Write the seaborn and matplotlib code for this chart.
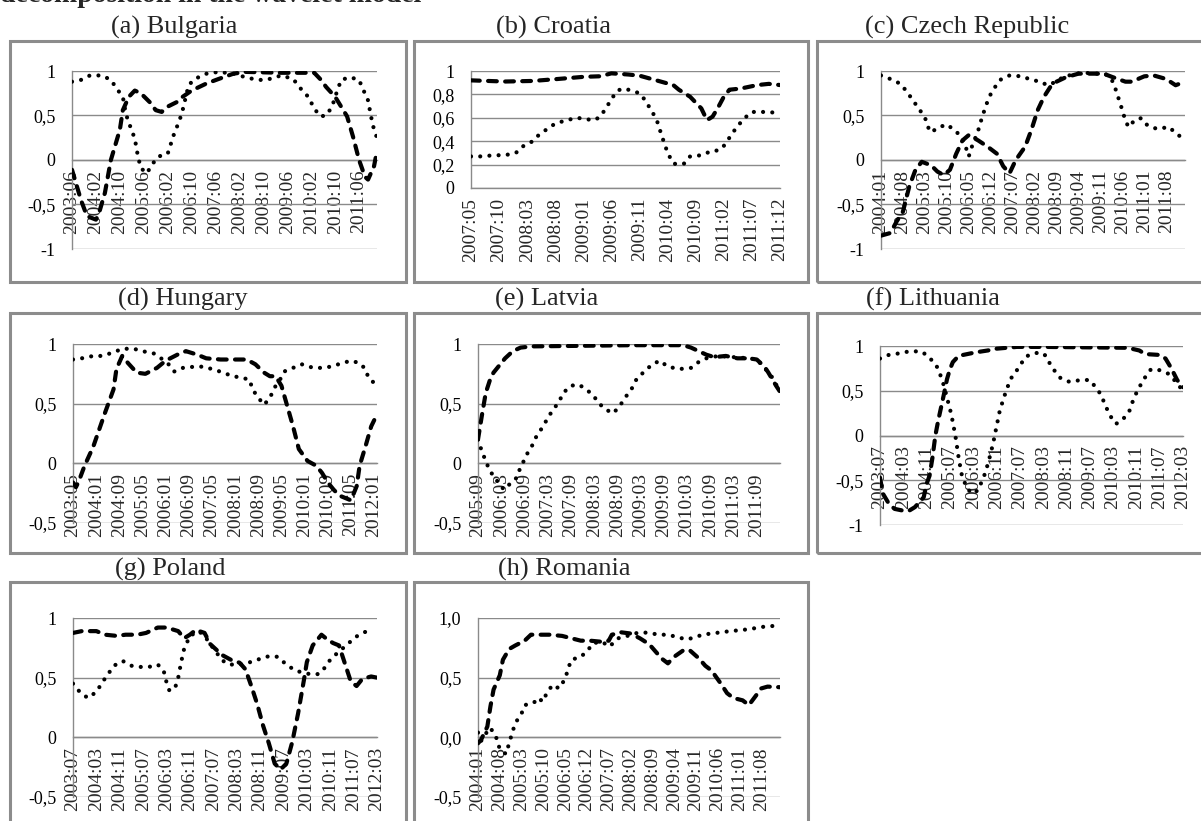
import matplotlib
matplotlib.use("Agg")
import matplotlib.pyplot as plt
from matplotlib.patches import Rectangle
import numpy as np
import seaborn as sns

sns.set_style("white")
plt.rcParams["font.family"] = ["Liberation Serif", "DejaVu Serif"]

# ---------------------------------------------------------------- data
# each series: (month index from the first category, value)
bulgaria_ticks = ["2003:06", "2004:02", "2004:10", "2005:06", "2006:02", "2006:10", "2007:06",
                  "2008:02", "2008:10", "2009:06", "2010:02", "2010:10", "2011:06"]
bulgaria_dash = [(0, -0.11), (3, -0.45), (5, -0.63), (8, -0.67), (9, -0.6), (11, -0.37), (13, 0.0),
                 (16, 0.34), (17, 0.56), (19, 0.71), (21, 0.78), (23, 0.75), (26, 0.65), (28, 0.56),
                 (30, 0.54), (32, 0.6), (35, 0.65), (37, 0.71), (40, 0.78), (45, 0.86), (49, 0.91),
                 (54, 0.97), (58, 0.99), (70, 0.98), (81, 0.98), (83, 0.91), (85, 0.82), (88, 0.71),
                 (90, 0.6), (92, 0.49), (94, 0.26), (96, 0.0), (98, -0.19), (99, -0.22), (101, -0.07),
                 (102, 0.1)]
bulgaria_dot = [(0, 0.88), (3, 0.9), (6, 0.95), (10, 0.95), (13, 0.9), (15, 0.8), (17, 0.71), (18, 0.52),
                (19, 0.42), (21, 0.24), (22, 0.05), (23, -0.09), (25, -0.15), (27, -0.04), (29, 0.04),
                (32, 0.07), (34, 0.28), (36, 0.45), (37, 0.56), (38, 0.7), (39, 0.84), (41, 0.91),
                (45, 0.97), (49, 0.99), (54, 0.97), (58, 0.93), (62, 0.9), (65, 0.9), (70, 0.95),
                (74, 0.91), (76, 0.82), (79, 0.71), (81, 0.58), (83, 0.49), (85, 0.5), (87, 0.6),
                (88, 0.71), (90, 0.9), (93, 0.93), (96, 0.9), (97, 0.82), (99, 0.67), (100, 0.49),
                (101, 0.34), (102, 0.25)]

croatia_ticks = ["2007:05", "2007:10", "2008:03", "2008:08", "2009:01", "2009:06", "2009:11",
                 "2010:04", "2010:09", "2011:02", "2011:07", "2011:12"]
croatia_dash = [(0, 0.92), (6, 0.91), (11, 0.915), (15, 0.93), (20, 0.95), (23, 0.955), (25, 0.98),
                (28, 0.97), (30, 0.96), (33, 0.92), (36, 0.88), (37, 0.84), (39, 0.78), (41, 0.68),
                (42, 0.58), (43, 0.61), (44, 0.69), (45, 0.78), (46, 0.84), (48, 0.85), (51, 0.88),
                (53, 0.89), (55, 0.88)]
croatia_dot = [(0, 0.27), (2, 0.27), (4, 0.28), (6, 0.28), (8, 0.30), (9, 0.35), (11, 0.40), (12, 0.45),
               (14, 0.52), (15, 0.55), (17, 0.58), (19, 0.60), (20, 0.59), (22, 0.58), (23, 0.61),
               (24, 0.68), (25, 0.76), (26, 0.83), (27, 0.85), (28, 0.84), (30, 0.81), (31, 0.75),
               (32, 0.67), (33, 0.59), (34, 0.44), (35, 0.3), (36, 0.21), (37, 0.2), (38, 0.21),
               (39, 0.27), (41, 0.28), (43, 0.32), (44, 0.32), (45, 0.36), (46, 0.43), (47, 0.5),
               (48, 0.56), (49, 0.61), (50, 0.65), (52, 0.65), (54, 0.645)]

czech_ticks = ["2004:01", "2004:08", "2005:03", "2005:10", "2006:05", "2006:12", "2007:07",
               "2008:02", "2008:09", "2009:04", "2009:11", "2010:06", "2011:01", "2011:08"]
czech_dash = [(0, -0.85), (3, -0.82), (5, -0.69), (7, -0.58), (9, -0.3), (11, -0.11), (13, -0.02),
              (16, -0.06), (18, -0.13), (20, -0.17), (22, -0.11), (24, 0.07), (26, 0.22), (28, 0.28),
              (31, 0.22), (34, 0.15), (37, 0.07), (39, -0.07), (41, -0.15), (43, 0.0), (46, 0.15),
              (48, 0.34), (50, 0.56), (52, 0.71), (54, 0.82), (56, 0.88), (59, 0.93), (63, 0.97),
              (67, 0.97), (71, 0.97), (74, 0.93), (78, 0.88), (80, 0.88), (82, 0.91), (84, 0.94),
              (87, 0.95), (91, 0.91), (94, 0.84), (97, 0.88)]
czech_dot = [(0, 0.95), (3, 0.91), (6, 0.86), (8, 0.78), (10, 0.68), (12, 0.58), (14, 0.48), (15, 0.37),
             (16, 0.31), (18, 0.36), (21, 0.4), (24, 0.32), (26, 0.24), (27, 0.15), (28, 0.04),
             (29, 0.15), (30, 0.24), (31, 0.33), (32, 0.45), (33, 0.56), (34, 0.66), (35, 0.74),
             (36, 0.8), (38, 0.9), (41, 0.95), (45, 0.94), (48, 0.9), (51, 0.88), (53, 0.84),
             (56, 0.88), (58, 0.93), (62, 0.97), (65, 0.98), (69, 0.97), (72, 0.96), (74, 0.88),
             (75, 0.78), (76, 0.67), (77, 0.56), (78, 0.44), (79, 0.37), (81, 0.45), (83, 0.47),
             (85, 0.39), (88, 0.35), (92, 0.37), (94, 0.3), (97, 0.23)]

hungary_ticks = ["2003:05", "2004:01", "2004:09", "2005:05", "2006:01", "2006:09", "2007:05",
                 "2008:01", "2008:09", "2009:05", "2010:01", "2010:09", "2011:05", "2012:01"]
hungary_dash = [(0, -0.16), (1, -0.2), (2, -0.15), (4, -0.02), (7, 0.14), (9, 0.28), (11, 0.42),
                (14, 0.62), (15, 0.79), (17, 0.9), (19, 0.84), (22, 0.76), (25, 0.75), (29, 0.8),
                (32, 0.86), (36, 0.91), (39, 0.94), (43, 0.91), (46, 0.88), (51, 0.87), (55, 0.87),
                (60, 0.87), (63, 0.83), (66, 0.76), (68, 0.73), (70, 0.73), (72, 0.65), (74, 0.48),
                (76, 0.31), (78, 0.12), (81, 0.02), (84, -0.02), (86, -0.08), (88, -0.16), (90, -0.22),
                (92, -0.27), (95, -0.3), (96, -0.31), (98, -0.19), (99, -0.02), (101, 0.14),
                (103, 0.31), (105, 0.41)]
hungary_dot = [(0, 0.87), (3, 0.88), (7, 0.9), (10, 0.9), (14, 0.93), (17, 0.96), (21, 0.96), (24, 0.94),
               (28, 0.92), (31, 0.87), (33, 0.83), (35, 0.77), (38, 0.8), (42, 0.81), (45, 0.81),
               (48, 0.79), (52, 0.76), (55, 0.73), (58, 0.72), (61, 0.7), (62, 0.62), (64, 0.55),
               (66, 0.49), (68, 0.55), (70, 0.65), (72, 0.72), (73, 0.77), (76, 0.8), (79, 0.83),
               (83, 0.8), (86, 0.8), (89, 0.81), (93, 0.84), (96, 0.86), (99, 0.84), (101, 0.79),
               (102, 0.72), (105, 0.65)]

latvia_ticks = ["2005:09", "2006:03", "2006:09", "2007:03", "2007:09", "2008:03", "2008:09",
                "2009:03", "2009:09", "2010:03", "2010:09", "2011:03", "2011:09"]
latvia_dash = [(0, 0.2), (1, 0.4), (2, 0.59), (3, 0.69), (4, 0.76), (5, 0.8), (7, 0.88), (9, 0.94),
               (11, 0.97), (14, 0.98), (40, 0.99), (53, 0.99), (55, 0.97), (57, 0.94), (59, 0.91),
               (61, 0.89), (64, 0.9), (67, 0.88), (70, 0.88), (72, 0.87), (74, 0.81), (75, 0.76),
               (77, 0.65), (78, 0.6)]
latvia_dot = [(0, 0.2), (1, 0.1), (2, 0.02), (3, -0.06), (5, -0.15), (6, -0.2), (7, -0.22), (8, -0.18),
              (10, -0.12), (11, -0.03), (12, 0.03), (13, 0.1), (14, 0.15), (15, 0.22), (17, 0.32),
              (18, 0.38), (19, 0.43), (21, 0.52), (22, 0.59), (24, 0.65), (26, 0.66), (28, 0.62),
              (30, 0.56), (31, 0.51), (33, 0.45), (35, 0.42), (37, 0.5), (38, 0.55), (40, 0.64),
              (41, 0.71), (43, 0.77), (45, 0.83), (47, 0.86), (49, 0.81), (52, 0.79), (55, 0.8),
              (56, 0.82), (57, 0.85), (59, 0.88), (62, 0.9), (66, 0.89), (70, 0.88), (72, 0.87),
              (74, 0.8), (76, 0.72), (78, 0.6)]

lithuania_ticks = ["2003:07", "2004:03", "2004:11", "2005:07", "2006:03", "2006:11", "2007:07",
                   "2008:03", "2008:11", "2009:07", "2010:03", "2010:11", "2011:07", "2012:03"]
lithuania_dash = [(0, -0.47), (1, -0.65), (3, -0.76), (5, -0.82), (8, -0.84), (10, -0.84), (12, -0.8),
                  (15, -0.69), (16, -0.54), (17, -0.45), (18, -0.25), (19, 0.0), (20, 0.17), (21, 0.32),
                  (22, 0.47), (23, 0.63), (24, 0.74), (25, 0.82), (27, 0.89), (30, 0.91), (33, 0.93),
                  (37, 0.95), (40, 0.97), (47, 0.99), (56, 0.99), (85, 0.98), (89, 0.95), (91, 0.91),
                  (96, 0.9), (98, 0.86), (100, 0.75), (102, 0.62), (104, 0.54)]
lithuania_dot = [(0, 0.86), (3, 0.9), (7, 0.92), (10, 0.94), (14, 0.94), (16, 0.9), (19, 0.8), (20, 0.74),
                 (21, 0.65), (22, 0.55), (23, 0.42), (24, 0.3), (25, 0.15), (26, -0.03), (27, -0.25),
                 (28, -0.43), (29, -0.52), (30, -0.6), (32, -0.65), (34, -0.6), (35, -0.5), (36, -0.43),
                 (37, -0.32), (38, -0.2), (39, -0.06), (40, 0.1), (41, 0.26), (42, 0.37), (43, 0.47),
                 (44, 0.56), (45, 0.64), (47, 0.73), (48, 0.78), (50, 0.88), (52, 0.91), (55, 0.93),
                 (57, 0.89), (58, 0.82), (60, 0.72), (62, 0.64), (65, 0.6), (69, 0.62), (72, 0.62),
                 (74, 0.54), (76, 0.45), (77, 0.36), (79, 0.22), (81, 0.13), (83, 0.17), (85, 0.24),
                 (86, 0.3), (87, 0.41), (89, 0.54), (91, 0.65), (93, 0.74), (96, 0.73), (99, 0.69),
                 (101, 0.62), (103, 0.54)]

poland_ticks = list(lithuania_ticks)
poland_dash = [(0, 0.875), (3, 0.89), (8, 0.89), (11, 0.86), (15, 0.85), (18, 0.86), (22, 0.86),
               (25, 0.875), (29, 0.92), (32, 0.92), (36, 0.89), (38, 0.83), (40, 0.86), (42, 0.9),
               (45, 0.875), (47, 0.78), (51, 0.69), (54, 0.65), (57, 0.625), (59, 0.57), (61, 0.43),
               (63, 0.28), (65, 0.1), (67, -0.05), (69, -0.22), (71, -0.27), (73, -0.22), (75, -0.04),
               (77, 0.2), (79, 0.48), (80, 0.63), (82, 0.77), (85, 0.86), (87, 0.82), (89, 0.79),
               (91, 0.77), (93, 0.62), (95, 0.47), (97, 0.43), (99, 0.49), (102, 0.51), (104, 0.5)]
poland_dot = [(0, 0.45), (2, 0.39), (5, 0.33), (8, 0.38), (10, 0.46), (12, 0.53), (14, 0.6), (17, 0.64),
              (20, 0.6), (23, 0.59), (26, 0.59), (29, 0.61), (31, 0.56), (32, 0.46), (33, 0.39),
              (35, 0.42), (36, 0.5), (37, 0.63), (38, 0.74), (40, 0.85), (43, 0.89), (45, 0.85),
              (47, 0.78), (50, 0.68), (52, 0.625), (54, 0.61), (57, 0.61), (60, 0.625), (63, 0.65),
              (67, 0.68), (70, 0.675), (73, 0.61), (76, 0.56), (79, 0.54), (81, 0.53), (84, 0.53),
              (86, 0.58), (88, 0.65), (91, 0.72), (94, 0.78), (96, 0.83), (99, 0.875), (102, 0.9)]

romania_ticks = list(czech_ticks)
romania_dash = [(0, -0.05), (1, -0.02), (3, 0.09), (4, 0.26), (5, 0.4), (7, 0.52), (8, 0.65), (10, 0.74),
                (12, 0.77), (15, 0.81), (17, 0.86), (20, 0.86), (23, 0.86), (27, 0.85), (30, 0.83),
                (33, 0.81), (36, 0.81), (40, 0.8), (42, 0.81), (43, 0.86), (46, 0.88), (49, 0.87),
                (52, 0.83), (55, 0.78), (57, 0.72), (59, 0.66), (61, 0.62), (63, 0.675), (66, 0.73),
                (68, 0.73), (71, 0.66), (73, 0.6), (75, 0.56), (78, 0.45), (80, 0.37), (82, 0.33),
                (85, 0.31), (87, 0.27), (89, 0.34), (91, 0.41), (93, 0.425), (97, 0.42)]
romania_dot = [(0, 0.04), (1, -0.03), (3, 0.05), (4, 0.08), (6, -0.01), (7, -0.1), (9, -0.14), (10, -0.05),
               (11, 0.04), (12, 0.12), (14, 0.2), (15, 0.27), (18, 0.29), (19, 0.33), (21, 0.3),
               (22, 0.37), (24, 0.44), (26, 0.41), (28, 0.49), (29, 0.58), (30, 0.65), (33, 0.675),
               (35, 0.72), (37, 0.79), (40, 0.8), (42, 0.76), (44, 0.8), (45, 0.83), (48, 0.85),
               (50, 0.87), (53, 0.88), (56, 0.87), (58, 0.86), (61, 0.86), (64, 0.84), (67, 0.82),
               (70, 0.84), (72, 0.86), (75, 0.87), (78, 0.88), (81, 0.89), (85, 0.9), (88, 0.91),
               (91, 0.925), (94, 0.93), (96, 0.94)]

# y scales (Excel style, decimal comma)
ticks_m1_1 = [-1, -0.5, 0, 0.5, 1]
labels_m1_1 = ["-1", "-0,5", "0", "0,5", "1"]
ticks_0_1 = [0, 0.2, 0.4, 0.6, 0.8, 1]
labels_0_1 = ["0", "0,2", "0,4", "0,6", "0,8", "1"]
ticks_h_1 = [-0.5, 0, 0.5, 1]
labels_h_1 = ["-0,5", "0", "0,5", "1"]
labels_h_1_dec = ["-0,5", "0,0", "0,5", "1,0"]

caption = "decomposition in the wavelet model"

# ---------------------------------------------------------------- layout
W, H = 1201, 821
fig = plt.figure(figsize=(W / 100, H / 100), dpi=100)

GRID = "#8a8a8a"
BORDER = "#8c8c8c"


def px_axes(x0, y0, x1, y1):
    return fig.add_axes([x0 / W, 1 - y1 / H, (x1 - x0) / W, (y1 - y0) / H])


def frame(x0, y0, x1, y1):
    fig.add_artist(Rectangle((x0 / W, 1 - y1 / H), (x1 - x0) / W, (y1 - y0) / H,
                             transform=fig.transFigure, fill=False, edgecolor=BORDER,
                             linewidth=2.2, zorder=0))


# caption line running off the top edge of the page
fig.text(0.0, 1 - 1.5 / H, caption, ha="left", va="baseline", fontsize=20,
         fontweight="bold")

panels = [
    # title, title centre (px), frame, axes box, n months, label step, y ticks, y labels, x labels, dash, dot
    ("(a) Bulgaria", (174, 27), (10, 41, 406, 282), (72, 71, 377, 249), 103, 8,
     ticks_m1_1, labels_m1_1, bulgaria_ticks, bulgaria_dash, bulgaria_dot),
    ("(b) Croatia", (554, 27), (414, 41, 808, 282), (471, 71, 780, 188), 56, 5,
     ticks_0_1, labels_0_1, croatia_ticks, croatia_dash, croatia_dot),
    ("(c) Czech Republic", (967, 27), (817, 41, 1214, 282), (881, 71, 1185, 249), 98, 7,
     ticks_m1_1, labels_m1_1, czech_ticks, czech_dash, czech_dot),
    ("(d) Hungary", (183, 299), (10, 313, 406, 553), (73, 344, 377, 523), 106, 8,
     ticks_h_1, labels_h_1, hungary_ticks, hungary_dash, hungary_dot),
    ("(e) Latvia", (547, 299), (414, 313, 808, 553), (478, 344, 780, 523), 79, 6,
     ticks_h_1, labels_h_1, latvia_ticks, latvia_dash, latvia_dot),
    ("(f) Lithuania", (933, 299), (817, 313, 1214, 553), (880, 346, 1183, 525), 105, 8,
     ticks_m1_1, labels_m1_1, lithuania_ticks, lithuania_dash, lithuania_dot),
    ("(g) Poland", (170, 569), (10, 582, 406, 830), (73, 618, 377, 797), 105, 8,
     ticks_h_1, labels_h_1, poland_ticks, poland_dash, poland_dot),
    ("(h) Romania", (564, 569), (414, 582, 808, 830), (478, 618, 780, 797), 98, 7,
     ticks_h_1, labels_h_1_dec, romania_ticks, romania_dash, romania_dot),
]

for (title, (tx, ty), fbox, abox, n, step, yt, yl, xl, dash, dot) in panels:
    frame(*fbox)
    fig.text(tx / W, 1 - ty / H, title, ha="center", va="center", fontsize=19)
    ax = px_axes(*abox)
    ax.set_facecolor("none")

    m, v = zip(*dash)
    sns.lineplot(x=list(m), y=list(v), ax=ax, color="black", linewidth=3.0,
                 estimator=None, sort=False, linestyle=(0, (2.1, 2.0)),
                 dash_capstyle="round", zorder=3)
    m, v = zip(*dot)
    sns.lineplot(x=list(m), y=list(v), ax=ax, color="black", linewidth=3.0,
                 estimator=None, sort=False, linestyle=(0, (0.01, 2.2)),
                 dash_capstyle="round", zorder=3)

    ax.set_xlim(0, n - 1)
    ax.set_ylim(yt[0], yt[-1])
    ax.set_yticks(yt)
    ax.set_yticklabels(yl)
    ax.set_xticks(np.arange(0, n, step)[:len(xl)])
    ax.set_xticklabels(xl)
    ax.set_xticks(np.arange(n), minor=True)

    ax.grid(False)
    ax.yaxis.grid(True, color=GRID, linewidth=1.0)
    ax.set_axisbelow(True)
    for s in ("top", "right"):
        ax.spines[s].set_visible(False)
    ax.spines["left"].set_color(GRID)
    ax.spines["left"].set_linewidth(1.0)
    ax.spines["bottom"].set_color(GRID)
    ax.spines["bottom"].set_linewidth(1.0)
    ax.spines["bottom"].set_position(("data", 0))

    ax.tick_params(axis="y", length=0, pad=12, labelsize=13, colors="black")
    ax.tick_params(axis="x", which="both", direction="out", length=4, width=0.8,
                   color=GRID, pad=3, labelsize=14, labelrotation=90)
    for lab in ax.get_xticklabels():
        lab.set_verticalalignment("top")
        lab.set_horizontalalignment("center")
    ax.set_xlabel("")
    ax.set_ylabel("")

fig.savefig("out.png", dpi=100)
